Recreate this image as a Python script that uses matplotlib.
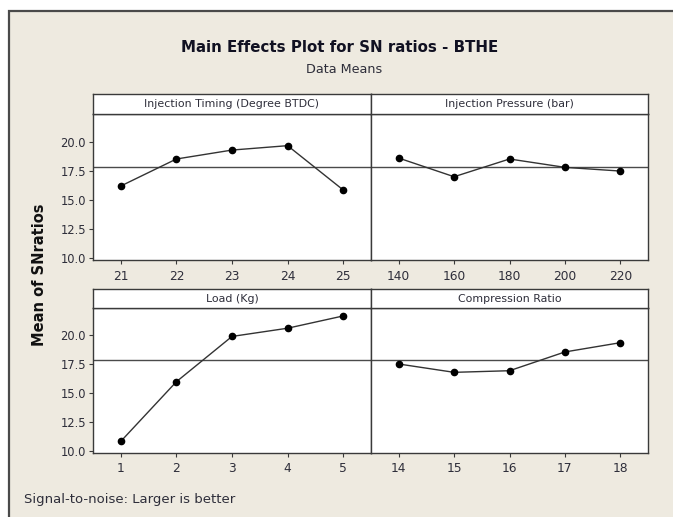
import numpy as np
import matplotlib
matplotlib.use("Agg")
import matplotlib.pyplot as plt
from matplotlib.patches import Rectangle

# factor levels and SN ratio means
timing_levels = ["21", "22", "23", "24", "25"]
timing_sn = [16.18, 18.51, 19.28, 19.66, 15.84]

pressure_levels = ["140", "160", "180", "200", "220"]
pressure_sn = [18.59, 16.98, 18.51, 17.79, 17.47]

load_levels = ["1", "2", "3", "4", "5"]
load_sn = [10.81, 15.96, 19.87, 20.58, 21.64]

cr_levels = ["14", "15", "16", "17", "18"]
cr_sn = [17.49, 16.77, 16.91, 18.53, 19.33]

titles = ["Injection Timing (Degree BTDC)", "Injection Pressure (bar)",
          "Load (Kg)", "Compression Ratio"]
yticks = [10.0, 12.5, 15.0, 17.5, 20.0]

grand_mean = np.mean(timing_sn + pressure_sn + load_sn + cr_sn)

bg = "#EEEAE0"
txt = "#2E2E3A"
edge = "#3A3A3A"

W, H = 673, 517
fig = plt.figure(figsize=(W / 100, H / 100), dpi=100)
fig.patch.set_facecolor("white")

# outer beige frame (runs off the right and bottom edges)
fig.patches.append(Rectangle((9 / W, -0.05), 1.1, 1 - 11 / H + 0.05,
                             transform=fig.transFigure, facecolor=bg,
                             edgecolor="#4A4A4A", lw=1.6, zorder=-10))

# panel geometry in pixels: (left, right, strip top, data top, data bottom)
cols = [(93, 371), (371, 648)]
rows = [(94, 114, 260, (9.8, 22.39)), (289, 308.3, 452.7, (9.83, 22.3))]

panels = [(timing_levels, timing_sn), (pressure_levels, pressure_sn),
          (load_levels, load_sn), (cr_levels, cr_sn)]

for idx, (levels, vals) in enumerate(panels):
    r, c = divmod(idx, 2)
    x0, x1 = cols[c]
    st, dt, db, ylim = rows[r]
    ax = fig.add_axes([x0 / W, 1 - db / H, (x1 - x0) / W, (db - dt) / H])
    ax.set_facecolor("white")
    xs = np.arange(1, len(levels) + 1)
    ax.axhline(grand_mean, color="#4A4A4A", lw=1.0, zorder=1)
    ax.plot(xs, vals, color="#333333", lw=1.0, marker="o", ms=4.5,
            mfc="black", mec="black", zorder=3)
    ax.set_xlim(0.5, 5.5)
    ax.set_ylim(*ylim)
    ax.set_xticks(xs)
    ax.set_xticklabels(levels)
    ax.set_yticks(yticks)
    if c == 0:
        ax.set_yticklabels(["%.1f" % t for t in yticks])
        ax.tick_params(axis="y", length=3, width=0.8, color=edge,
                       labelsize=8.3, labelcolor=txt, pad=2)
    else:
        ax.tick_params(axis="y", left=False, labelleft=False)
    ax.tick_params(axis="x", length=3, width=0.8, color=edge,
                   labelsize=8.8, labelcolor=txt, pad=4)
    for s in ax.spines.values():
        s.set_color(edge)
        s.set_linewidth(1.0)

    # strip header
    sx = fig.add_axes([x0 / W, 1 - dt / H, (x1 - x0) / W, (dt - st) / H])
    sx.set_facecolor("white")
    sx.set_xticks([])
    sx.set_yticks([])
    for s in sx.spines.values():
        s.set_color(edge)
        s.set_linewidth(1.0)
    sx.text(0.5, 0.5, titles[idx], ha="center", va="center",
            fontsize=7.9, color=txt, transform=sx.transAxes)

fig.text(0.505, 0.909, "Main Effects Plot for SN ratios - BTHE",
         ha="center", va="center", fontsize=10.8, fontweight="bold",
         color="#111122")
fig.text(0.512, 0.865, "Data Means", ha="center", va="center",
         fontsize=9.2, color=txt)
fig.text(0.058, 0.468, "Mean of SNratios", ha="center", va="center",
         rotation=90, fontsize=10.5, fontweight="bold", color="#111111")
fig.text(0.036, 0.033, "Signal-to-noise: Larger is better", ha="left",
         va="center", fontsize=9.5, color=txt)

fig.savefig("out.png", dpi=100)
